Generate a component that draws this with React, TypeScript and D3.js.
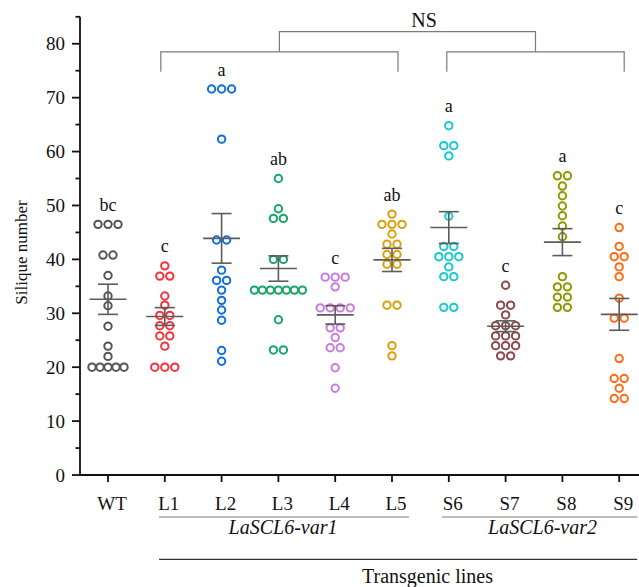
import React from "react";
import * as d3 from "d3";

// Silique counts per plant for each line
const groups = ["WT", "L1", "L2", "L3", "L4", "L5", "S6", "S7", "S8", "S9"];

const wt = [46.5, 46.5, 46.5, 40.8, 40.8, 37, 33.2, 31.4, 27.6, 23.9, 22, 20, 20, 20, 20, 20];
const l1 = [38.8, 36.9, 36.9, 33.2, 31.5, 29.6, 29.6, 27.7, 27.7, 25.8, 25.8, 23.9, 20, 20, 20];
const l2 = [71.6, 71.6, 71.6, 62.3, 43.6, 43.6, 38, 36.1, 36.1, 34.3, 32.4, 30.6, 28.7, 23.1, 21.1];
const l3 = [55, 49.4, 47.6, 47.6, 40, 40, 34.3, 34.3, 34.3, 34.3, 34.3, 34.3, 34.3, 28.8, 23.2, 23.2];
const l4 = [36.7, 36.7, 36.7, 34.9, 31, 31, 31, 31, 27.3, 27.3, 25.5, 23.6, 23.6, 19.9, 16.1];
const l5 = [48.4, 46.5, 46.5, 46.5, 44.7, 42.8, 42.8, 40.9, 40.9, 39.1, 39.1, 31.5, 31.5, 24, 22.1];
const s6 = [64.8, 61.1, 61.1, 59.2, 48, 42.4, 42.4, 40.5, 40.5, 40.5, 38.6, 36.8, 36.8, 31.1, 31.1];
const s7 = [35.2, 31.5, 31.5, 29.7, 27.7, 27.7, 27.7, 25.8, 25.8, 25.8, 24, 24, 24, 22.1, 22.1];
const s8 = [55.5, 55.5, 53.6, 51.8, 49.9, 48.1, 46.2, 44.2, 36.8, 34.9, 34.9, 33, 33, 31.1, 31.1];
const s9 = [45.9, 42.4, 40.5, 40.5, 38.6, 36.8, 32.8, 29.1, 29.1, 21.6, 17.9, 17.9, 16.1, 14.2, 14.2];

const values = [wt, l1, l2, l3, l4, l5, s6, s7, s8, s9];

// Mean ± SEM per line
const means = [32.6, 29.4, 43.9, 38.3, 29.7, 39.9, 45.9, 27.6, 43.2, 29.8];
const sems = [2.8, 1.65, 4.6, 2.35, 1.7, 2.15, 2.95, 1.0, 2.5, 2.95];

// Significance letters
const letters = ["bc", "c", "a", "ab", "c", "ab", "a", "c", "a", "c"];

const colors = [
  "#555555", "#f5333f", "#1070da", "#16a768", "#c77ddd",
  "#d9a00a", "#18c8d2", "#8a4a4a", "#8f9800", "#ff6a12",
];

const yTicks = [0, 10, 20, 30, 40, 50, 60, 70, 80];
const yMinorTicks = [5, 15, 25, 35, 45, 55, 65, 75, 85];

const W = 639;
const H = 587;
const FONT = "Liberation Serif, Times New Roman, serif";

export default function App() {
  const x = d3.scalePoint<string>().domain(groups).range([108, 619.2]).padding(0);
  const y = d3.scaleLinear().domain([0, 85]).range([475, 16.8]);
  const axisLeft = 80;
  const axisY = y(0);

  // Lay points out in centred rows of equal value
  const layout = (vals: number[]) => {
    const rows = d3.group(vals, (v) => v);
    const pts: { v: number; dx: number }[] = [];
    rows.forEach((arr, v) => {
      const n = arr.length;
      const s = n <= 4 ? 10 : 8;
      arr.forEach((_, i) => pts.push({ v, dx: (i - (n - 1) / 2) * s }));
    });
    return pts;
  };

  const gray = "#5c5c5c";
  const lineGray = "#7a7a7a";
  const xs = (g: string) => x(g) as number;
  const txt = { fontFamily: FONT, fill: "#111" };

  return (
    <svg
      width={W}
      height={H}
      style={{ position: "absolute", left: 0, top: 0, background: "#fff" }}
    >
      <rect width={W} height={H} fill="#fff" />

      {/* y axis */}
      <line x1={axisLeft} x2={axisLeft} y1={y(85)} y2={axisY} stroke="#111" strokeWidth={1.8} />
      {yTicks.map((t) => (
        <g key={"yt" + t}>
          <line x1={axisLeft - 8} x2={axisLeft} y1={y(t)} y2={y(t)} stroke="#111" strokeWidth={1.8} />
          <text {...txt} x={axisLeft - 15} y={y(t)} dy="0.35em" textAnchor="end" fontSize={19}>
            {t}
          </text>
        </g>
      ))}
      {yMinorTicks.map((t) => (
        <line key={"ym" + t} x1={axisLeft - 4.5} x2={axisLeft} y1={y(t)} y2={y(t)} stroke="#111" strokeWidth={1.8} />
      ))}
      <text {...txt} transform="translate(26.5, 252.5) rotate(-90)" textAnchor="middle" fontSize={17}>
        Silique number
      </text>

      {/* x axis */}
      <line x1={axisLeft - 0.9} x2={W + 10} y1={axisY} y2={axisY} stroke="#111" strokeWidth={1.8} />
      {groups.map((g) => (
        <g key={"xt" + g}>
          <line x1={xs(g)} x2={xs(g)} y1={axisY} y2={axisY + 7} stroke="#111" strokeWidth={1.8} />
          <text {...txt} x={xs(g) + 4} y={509.5} textAnchor="middle" fontSize={19}>
            {g}
          </text>
        </g>
      ))}

      {/* points */}
      {values.map((vals, gi) =>
        layout(vals).map((p, i) => (
          <circle
            key={`p${gi}-${i}`}
            cx={xs(groups[gi]) + p.dx}
            cy={y(p.v)}
            r={3.7}
            fill="none"
            stroke={colors[gi]}
            strokeWidth={2}
          />
        ))
      )}

      {/* mean ± SEM */}
      {means.map((m, gi) => {
        const cx = xs(groups[gi]);
        const top = y(m + sems[gi]);
        const bot = y(m - sems[gi]);
        return (
          <g key={"m" + gi} stroke={gray} strokeWidth={1.6}>
            <line x1={cx - 18.5} x2={cx + 18.5} y1={y(m)} y2={y(m)} />
            <line x1={cx} x2={cx} y1={top} y2={bot} />
            <line x1={cx - 10} x2={cx + 10} y1={top} y2={top} />
            <line x1={cx - 10} x2={cx + 10} y1={bot} y2={bot} />
          </g>
        );
      })}

      {/* significance letters */}
      {letters.map((l, gi) => (
        <text
          {...txt}
          key={"l" + gi}
          x={xs(groups[gi])}
          y={y(d3.max(values[gi]) as number) - 13.5}
          textAnchor="middle"
          fontSize={18}
        >
          {l}
        </text>
      ))}

      {/* comparison brackets */}
      <g stroke={lineGray} strokeWidth={1.2} fill="none">
        <path d={`M${xs("L1") - 4},${y(74.8)}V${y(78.5)}H${xs("L5") + 6}V${y(74.8)}`} />
        <path d={`M${xs("S6") - 2},${y(74.8)}V${y(78.5)}H${xs("S9") + 5}V${y(74.8)}`} />
        <path
          d={`M${(xs("L1") - 4 + xs("L5") + 6) / 2},${y(78.5)}V${y(82.25)}H${(xs("S6") - 2 + xs("S9") + 5) / 2}V${y(78.5)}`}
        />
      </g>
      <text {...txt} x={424} y={27} textAnchor="middle" fontSize={20}>
        NS
      </text>

      {/* line groupings */}
      <g stroke={lineGray} strokeWidth={1.2}>
        <line x1={xs("L1") - 5.7} x2={xs("L5") + 17} y1={517} y2={517} />
        <line x1={xs("S6") - 6.7} x2={xs("S9") + 18} y1={517} y2={517} />
        <line x1={xs("L1") - 5.7} x2={xs("S9") + 18} y1={559.3} y2={559.3} stroke="#333" />
      </g>
      <text {...txt} x={283} y={534} textAnchor="middle" fontSize={20} fontStyle="italic">
        LaSCL6-var1
      </text>
      <text {...txt} x={542.5} y={534} textAnchor="middle" fontSize={20} fontStyle="italic">
        LaSCL6-var2
      </text>
      <text {...txt} x={427.5} y={583} textAnchor="middle" fontSize={20}>
        Transgenic lines
      </text>
    </svg>
  );
}
